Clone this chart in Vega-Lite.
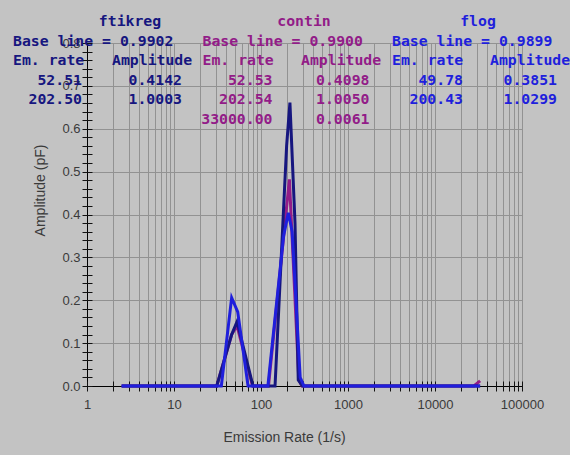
{
  "$schema": "https://vega.github.io/schema/vega-lite/v6.json",
  "width": 435,
  "height": 343,
  "autosize": {"type": "none"},
  "padding": {"left": 87, "top": 43, "right": 48, "bottom": 69},
  "background": "#c3c3c3",
  "config": {
    "view": {"stroke": null},
    "text": {"font": "DejaVu Sans Mono", "fontSize": 14.8, "fontWeight": "bold"}
  },
  "datasets": {
    "curves": [
      {"grp": "contin", "r": 2.5, "a": 0},
      {"grp": "contin", "r": 31, "a": 0},
      {"grp": "contin", "r": 46, "a": 0.12},
      {"grp": "contin", "r": 53, "a": 0.14},
      {"grp": "contin", "r": 80, "a": 0},
      {"grp": "contin", "r": 122, "a": 0},
      {"grp": "contin", "r": 212, "a": 0.482},
      {"grp": "contin", "r": 272, "a": 0.015},
      {"grp": "contin", "r": 295, "a": 0},
      {"grp": "contin", "r": 28000, "a": 0},
      {"grp": "contin", "r": 33000, "a": 0.012},
      {"grp": "ftikreg", "r": 2.5, "a": 0},
      {"grp": "ftikreg", "r": 31, "a": 0},
      {"grp": "ftikreg", "r": 46, "a": 0.12},
      {"grp": "ftikreg", "r": 53, "a": 0.15},
      {"grp": "ftikreg", "r": 81, "a": 0},
      {"grp": "ftikreg", "r": 145, "a": 0},
      {"grp": "ftikreg", "r": 197, "a": 0.56},
      {"grp": "ftikreg", "r": 215, "a": 0.661},
      {"grp": "ftikreg", "r": 246, "a": 0.38},
      {"grp": "ftikreg", "r": 268, "a": 0.014},
      {"grp": "ftikreg", "r": 300, "a": 0},
      {"grp": "ftikreg", "r": 33000, "a": 0},
      {"grp": "flog", "r": 2.5, "a": 0},
      {"grp": "flog", "r": 35, "a": 0},
      {"grp": "flog", "r": 46, "a": 0.206},
      {"grp": "flog", "r": 54, "a": 0.173},
      {"grp": "flog", "r": 71, "a": 0},
      {"grp": "flog", "r": 120, "a": 0},
      {"grp": "flog", "r": 182, "a": 0.35},
      {"grp": "flog", "r": 206, "a": 0.404},
      {"grp": "flog", "r": 228, "a": 0.36},
      {"grp": "flog", "r": 282, "a": 0.02},
      {"grp": "flog", "r": 312, "a": 0},
      {"grp": "flog", "r": 33000, "a": 0}
    ],
    "notes": [
      {"grp": "ftikreg", "kind": "title", "row": 0, "text": "ftikreg"},
      {"grp": "ftikreg", "kind": "left", "row": 1, "text": "Base line = 0.9902"},
      {"grp": "ftikreg", "kind": "left", "row": 2, "text": "Em. rate"},
      {"grp": "ftikreg", "kind": "amphead", "row": 2, "text": "Amplitude"},
      {"grp": "ftikreg", "kind": "rate", "row": 3, "text": "52.51"},
      {"grp": "ftikreg", "kind": "rate", "row": 4, "text": "202.50"},
      {"grp": "ftikreg", "kind": "amp", "row": 3, "text": "0.4142"},
      {"grp": "ftikreg", "kind": "amp", "row": 4, "text": "1.0003"},
      {"grp": "contin", "kind": "title", "row": 0, "text": "contin"},
      {"grp": "contin", "kind": "left", "row": 1, "text": "Base line = 0.9900"},
      {"grp": "contin", "kind": "left", "row": 2, "text": "Em. rate"},
      {"grp": "contin", "kind": "amphead", "row": 2, "text": "Amplitude"},
      {"grp": "contin", "kind": "rate", "row": 3, "text": "52.53"},
      {"grp": "contin", "kind": "rate", "row": 4, "text": "202.54"},
      {"grp": "contin", "kind": "rate", "row": 5, "text": "33000.00"},
      {"grp": "contin", "kind": "amp", "row": 3, "text": "0.4098"},
      {"grp": "contin", "kind": "amp", "row": 4, "text": "1.0050"},
      {"grp": "contin", "kind": "amp", "row": 5, "text": "0.0061"},
      {"grp": "flog", "kind": "title", "row": 0, "text": "flog"},
      {"grp": "flog", "kind": "left", "row": 1, "text": "Base line = 0.9899"},
      {"grp": "flog", "kind": "left", "row": 2, "text": "Em. rate"},
      {"grp": "flog", "kind": "amphead", "row": 2, "text": "Amplitude"},
      {"grp": "flog", "kind": "rate", "row": 3, "text": "49.78"},
      {"grp": "flog", "kind": "rate", "row": 4, "text": "200.43"},
      {"grp": "flog", "kind": "amp", "row": 3, "text": "0.3851"},
      {"grp": "flog", "kind": "amp", "row": 4, "text": "1.0299"}
    ]
  },
  "resolve": {"scale": {"x": "independent", "y": "independent"}},
  "layer": [
    {
      "data": {"name": "curves"},
      "encoding": {
        "x": {
          "field": "r", "type": "quantitative",
          "scale": {"type": "log", "domain": [1, 100000], "nice": false},
          "axis": {
            "orient": "bottom",
            "title": "Emission Rate (1/s)",
            "values": [1,2,3,4,5,6,7,8,9,10,20,30,40,50,60,70,80,90,100,200,300,400,500,600,700,800,900,1000,2000,3000,4000,5000,6000,7000,8000,9000,10000,20000,30000,40000,50000,60000,70000,80000,90000,100000],
            "format": "d",
            "labelExpr": "abs(log(datum.value)/LN10 - round(log(datum.value)/LN10)) < 0.001 ? datum.label : ''",
            "labelOverlap": false,
            "labelFlush": false,
            "labelFont": "Liberation Sans Narrow, Liberation Sans",
            "labelFontSize": 13,
            "labelColor": "#3a3a3a",
            "labelPadding": 7,
            "labelBaseline": "top",
            "domain": false,
            "offset": -5,
            "ticks": true,
            "tickSize": 10,
            "tickColor": "#111111",
            "tickWidth": 1,
            "grid": true,
            "gridColor": {"condition": {"test": "datum.value == 1", "value": "#000000"}, "value": "#929292"},
            "gridWidth": 1,
            "titleFont": "Liberation Sans",
            "titleFontSize": 14,
            "titleFontWeight": "normal",
            "titleColor": "#3a3a3a",
            "titleX": 197,
            "titleY": 56,
            "titleAlign": "center",
            "titleBaseline": "middle"
          }
        },
        "y": {
          "field": "a", "type": "quantitative",
          "scale": {"domain": [0, 0.8], "nice": false, "zero": false},
          "axis": {
            "orient": "left",
            "title": "Amplitude (pF)",
            "values": [0,0.02,0.04,0.06,0.08,0.1,0.12,0.14,0.16,0.18,0.2,0.22,0.24,0.26,0.28,0.3,0.32,0.34,0.36,0.38,0.4,0.42,0.44,0.46,0.48,0.5,0.52,0.54,0.56,0.58,0.6,0.62,0.64,0.66,0.68,0.7,0.72,0.74,0.76,0.78,0.8],
            "format": ".1f",
            "labelExpr": "abs(datum.value*10 - round(datum.value*10)) < 0.001 ? datum.label : ''",
            "labelOverlap": false,
            "labelFlush": false,
            "labelFont": "Liberation Sans Narrow, Liberation Sans",
            "labelFontSize": 13,
            "labelColor": "#3a3a3a",
            "labelPadding": 2,
            "domain": false,
            "offset": -5,
            "tickSize": 10,
            "tickColor": "#111111",
            "tickWidth": 1,
            "grid": true,
            "gridColor": {"condition": {"test": "datum.value == 0", "value": "#000000"}, "value": "#929292"},
            "gridOpacity": {"condition": {"test": "abs(datum.value*10 - round(datum.value*10)) > 0.001", "value": 0}, "value": 1},
            "titleFont": "Liberation Sans",
            "titleFontSize": 14,
            "titleFontWeight": "normal",
            "titleColor": "#3a3a3a",
            "titleAngle": 270,
            "titleX": -52,
            "titleY": 147,
            "titleAlign": "center",
            "titleBaseline": "middle"
          }
        },
        "color": {
          "field": "grp", "type": "nominal",
          "scale": {"domain": ["ftikreg", "contin", "flog"], "range": ["#16167f", "#921c88", "#1f1fdc"]},
          "legend": null
        }
      },
      "layer": [
        {"transform": [{"filter": "datum.grp == 'contin'"}], "mark": {"type": "line", "strokeWidth": 3}},
        {"transform": [{"filter": "datum.grp == 'ftikreg'"}], "mark": {"type": "line", "strokeWidth": 3}},
        {"transform": [{"filter": "datum.grp == 'flog'"}], "mark": {"type": "line", "strokeWidth": 3}}
      ]
    },
    {
      "data": {"name": "notes"},
      "transform": [{"filter": "datum.kind == 'title'"}],
      "mark": {"type": "text", "align": "center", "baseline": "alphabetic"},
      "encoding": {
        "x": {"field": "grp", "type": "nominal", "scale": {"type": "point", "domain": ["ftikreg", "contin", "flog"], "range": [43, 391], "padding": 0}, "axis": null},
        "y": {"field": "row", "type": "ordinal", "scale": {"type": "point", "domain": [0,1,2,3,4,5], "range": [-17, 81], "padding": 0}, "axis": null},
        "text": {"field": "text"},
        "color": {"field": "grp", "type": "nominal", "legend": null}
      }
    },
    {
      "data": {"name": "notes"},
      "transform": [{"filter": "datum.kind == 'left'"}],
      "mark": {"type": "text", "align": "left", "baseline": "alphabetic"},
      "encoding": {
        "x": {"field": "grp", "type": "nominal", "scale": {"type": "point", "domain": ["ftikreg", "contin", "flog"], "range": [-74, 305], "padding": 0}, "axis": null},
        "y": {"field": "row", "type": "ordinal", "scale": {"type": "point", "domain": [0,1,2,3,4,5], "range": [-17, 81], "padding": 0}, "axis": null},
        "text": {"field": "text"},
        "color": {"field": "grp", "type": "nominal", "legend": null}
      }
    },
    {
      "data": {"name": "notes"},
      "transform": [{"filter": "datum.kind == 'amphead'"}],
      "mark": {"type": "text", "align": "left", "baseline": "alphabetic"},
      "encoding": {
        "x": {"field": "grp", "type": "nominal", "scale": {"type": "point", "domain": ["ftikreg", "contin", "flog"], "range": [25, 403], "padding": 0}, "axis": null},
        "y": {"field": "row", "type": "ordinal", "scale": {"type": "point", "domain": [0,1,2,3,4,5], "range": [-17, 81], "padding": 0}, "axis": null},
        "text": {"field": "text"},
        "color": {"field": "grp", "type": "nominal", "legend": null}
      }
    },
    {
      "data": {"name": "notes"},
      "transform": [{"filter": "datum.kind == 'rate'"}],
      "mark": {"type": "text", "align": "right", "baseline": "alphabetic"},
      "encoding": {
        "x": {"field": "grp", "type": "nominal", "scale": {"type": "point", "domain": ["ftikreg", "contin", "flog"], "range": [-5, 376], "padding": 0}, "axis": null},
        "y": {"field": "row", "type": "ordinal", "scale": {"type": "point", "domain": [0,1,2,3,4,5], "range": [-17, 81], "padding": 0}, "axis": null},
        "text": {"field": "text"},
        "color": {"field": "grp", "type": "nominal", "legend": null}
      }
    },
    {
      "data": {"name": "notes"},
      "transform": [{"filter": "datum.kind == 'amp'"}],
      "mark": {"type": "text", "align": "right", "baseline": "alphabetic"},
      "encoding": {
        "x": {"field": "grp", "type": "nominal", "scale": {"type": "point", "domain": ["ftikreg", "contin", "flog"], "range": [95, 470], "padding": 0}, "axis": null},
        "y": {"field": "row", "type": "ordinal", "scale": {"type": "point", "domain": [0,1,2,3,4,5], "range": [-17, 81], "padding": 0}, "axis": null},
        "text": {"field": "text"},
        "color": {"field": "grp", "type": "nominal", "legend": null}
      }
    }
  ]
}
